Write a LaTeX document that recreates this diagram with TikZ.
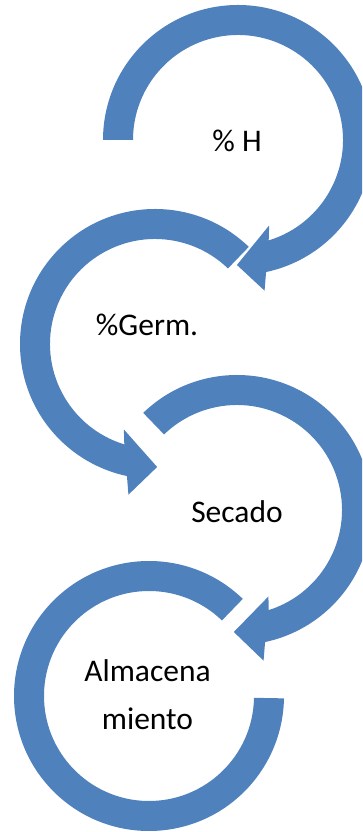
\documentclass[tikz,border=0pt]{standalone}
\usepackage{fontspec}
\setmainfont{Carlito}
\usetikzlibrary{calc}
\definecolor{arrowblue}{HTML}{4F81BD}
\begin{document}
\begin{tikzpicture}[x=1pt,y=1pt,
  ring/.style={fill=arrowblue},
  lbl/.style={anchor=base,inner sep=0pt,font=\fontsize{31.5}{38}\selectfont,text=black}]
\useasboundingbox (0,0) rectangle (362,832);
\clip (0,0) rectangle (362,832);
\coordinate (c1) at (238,692);
\coordinate (c2) at (155,488);
\coordinate (c3) at (237,322);
\coordinate (c4) at (149,136);
% circle 1: clockwise from left, arrowhead at bottom
\fill[ring,shift={(c1)}] (180:135) arc[start angle=180,end angle=-78,radius=135]
  -- (-80:153) -- (-90.5:125) -- (-70:91) -- (-73:105)
  arc[start angle=-73,end angle=180,radius=105] -- cycle;
% circle 2: counter-clockwise from top-right, arrowhead at bottom
\fill[ring,shift={(c2)}] (46:135) arc[start angle=46,end angle=258,radius=135]
  -- (260:153) -- (271:123) -- (250:91) -- (253:105)
  arc[start angle=253,end angle=46,radius=105] -- cycle;
% circle 3: clockwise from top-left, arrowhead at bottom
\fill[ring,shift={(c3)}] (134:135) arc[start angle=134,end angle=-78,radius=135]
  -- (-80:153) -- (-91.5:122) -- (-70:92) -- (-72.5:105)
  arc[start angle=-72.5,end angle=134,radius=105] -- cycle;
% circle 4: counter-clockwise from top-right to right, no head
\fill[ring,shift={(c4)}] (46:135) arc[start angle=46,end angle=359,radius=135]
  -- (359:105) arc[start angle=359,end angle=46,radius=105] -- cycle;
\node[lbl] (t1) at (237,680.3) {\% H};
\node[lbl] (t2) at (147,496) {\%Germ.};
\node[lbl] (t3) at (237,309.3) {Secado};
\node[lbl] (t4) at (147.5,150.3) {Almacena};
\node[lbl] (t5) at (147.5,102) {miento};
\end{tikzpicture}
\end{document}
